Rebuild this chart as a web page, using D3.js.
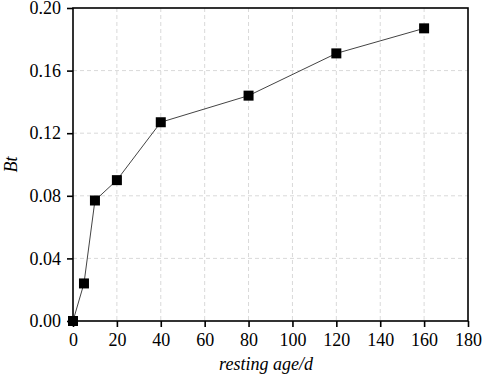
<!DOCTYPE html>
<html>
<head>
<meta charset="utf-8">
<script src="https://cdn.jsdelivr.net/npm/d3@7/dist/d3.min.js"></script>
<style>
  body { margin: 0; background: #fff; font-family: 'Times New Roman', 'Liberation Serif', serif; }
  svg { display: block; }
  svg text, svg tspan { font-family: 'Times New Roman', 'Liberation Serif', serif !important; }
</style>
</head>
<body>
<script>
// data
let restingAge = [0, 5, 10, 20, 40, 80, 120, 160];
let btValues = [0.000, 0.024, 0.077, 0.090, 0.127, 0.144, 0.171, 0.187];
let xTicks = [0, 20, 40, 60, 80, 100, 120, 140, 160, 180];
let yTicks = [0.00, 0.04, 0.08, 0.12, 0.16, 0.20];

let serif = "'Times New Roman', 'Liberation Serif', serif";
let width = 484, height = 380;
let margin = {top: 8, right: 16, bottom: 59, left: 73};
let renderWidth = width - margin.left - margin.right;
let renderHeight = height - margin.top - margin.bottom;
let fontSize = 18;

let svg = d3.select('body').append('svg').attr('width', width).attr('height', height)
  .attr('font-family', 'Times New Roman');
let g = svg.append('g').attr('transform', 'translate(' + margin.left + ',' + margin.top + ')');

let xScale = d3.scaleLinear().domain([0, 180]).range([0, renderWidth]);
let yScale = d3.scaleLinear().domain([0, 0.20]).range([renderHeight, 0]);

// dashed grid
g.append('g').selectAll('line').data(xTicks.slice(1, -1)).enter().append('line')
  .attr('x1', d => xScale(d)).attr('x2', d => xScale(d))
  .attr('y1', 0).attr('y2', renderHeight)
  .attr('stroke', '#d9d9d9').attr('stroke-width', 1).attr('stroke-dasharray', '4,3');
g.append('g').selectAll('line').data(yTicks.slice(1, -1)).enter().append('line')
  .attr('y1', d => yScale(d)).attr('y2', d => yScale(d))
  .attr('x1', 0).attr('x2', renderWidth)
  .attr('stroke', '#d9d9d9').attr('stroke-width', 1).attr('stroke-dasharray', '4,3');

// box
g.append('rect').attr('width', renderWidth).attr('height', renderHeight)
  .attr('fill', 'none').attr('stroke', '#000').attr('stroke-width', 1.6);

let xAxis = d3.axisBottom(xScale).tickValues(xTicks).tickFormat(d3.format('d')).tickSizeOuter(0).tickSize(6).tickPadding(6);
let yAxis = d3.axisLeft(yScale).tickValues(yTicks).tickFormat(d3.format('.2f')).tickSizeOuter(0).tickSize(6).tickPadding(6);

let gx = g.append('g').attr('transform', 'translate(0,' + renderHeight + ')').call(xAxis);
let gy = g.append('g').call(yAxis);
[gx, gy].forEach(a => {
  a.attr('font-family', serif).attr('font-size', fontSize);
  a.select('.domain').remove();
  a.selectAll('line').attr('stroke', '#000').attr('stroke-width', 1.6);
  a.selectAll('text').attr('fill', '#000')
    .style('font-family', serif).style('font-size', fontSize + 'px');
});

// line + markers
let line = d3.line()
  .x((d, i) => xScale(restingAge[i]))
  .y(d => yScale(d));

g.append('path').datum(btValues)
  .attr('d', line)
  .attr('fill', 'none')
  .attr('stroke', '#444')
  .attr('stroke-width', 1);

let size = 10;
g.selectAll('.marker').data(btValues).enter().append('rect')
  .attr('class', 'marker')
  .attr('x', (d, i) => xScale(restingAge[i]) - size / 2)
  .attr('y', d => yScale(d) - size / 2)
  .attr('width', size).attr('height', size)
  .attr('fill', '#000');

// axis titles
svg.append('text').text('resting age/d')
  .attr('x', 266).attr('y', 370)
  .attr('text-anchor', 'middle')
  .style('font-family', serif)
  .style('font-style', 'italic').style('font-size', fontSize + 'px');

svg.append('text').text('Bt')
  .attr('transform', 'translate(17,' + (margin.top + renderHeight / 2) + ') rotate(-90)')
  .attr('text-anchor', 'middle')
  .style('font-family', serif)
  .style('font-style', 'italic').style('font-size', fontSize + 'px');
</script>
</body>
</html>
